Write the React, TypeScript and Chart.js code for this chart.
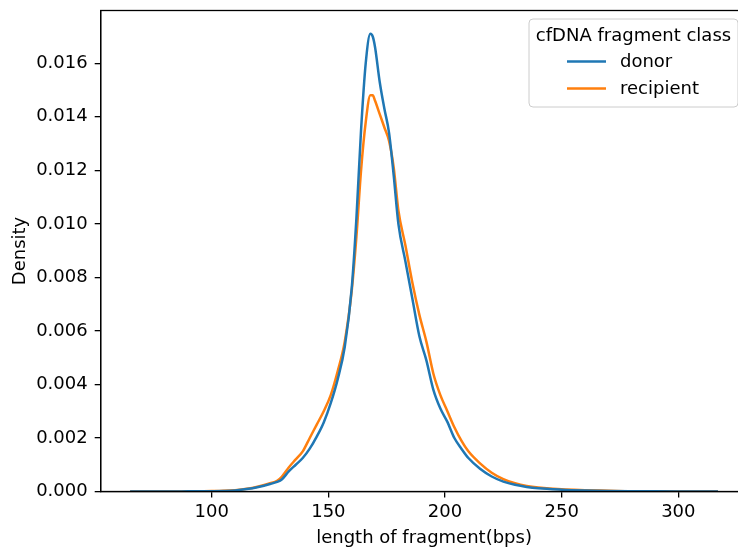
import React, { useEffect, useRef } from "react";
import { Chart, registerables } from "chart.js";

Chart.register(...registerables);

const lengths = [65, 70, 75, 80, 85, 90, 95, 100, 105, 110, 115, 120, 125, 128, 130, 133, 136, 139, 142, 145, 148, 151, 154, 157, 160, 162, 164, 166, 168, 169, 170, 172, 174, 176, 178, 180, 183, 186, 189, 192, 195, 198, 201, 204, 207, 210, 215, 220, 225, 230, 235, 240, 250, 260, 270, 280, 290, 300, 310, 317];

const donor = [0, 0, 0, 0, 0.000003, 0.000005, 0.000008, 0.000012, 0.00002, 0.00004,
  0.00009, 0.00017, 0.00028, 0.00036, 0.00045,
  0.00075, 0.001, 0.00125, 0.0016, 0.00205, 0.00258, 0.0033, 0.0042, 0.0054, 0.0076,
  0.0102, 0.0135, 0.016, 0.0171, 0.017, 0.0166, 0.0153, 0.0143, 0.0134, 0.0118, 0.01,
  0.0086, 0.0072, 0.0058, 0.0049, 0.0038, 0.0031, 0.0026, 0.002, 0.0016, 0.00125,
  0.00085, 0.00056, 0.00037, 0.00025, 0.00017, 0.00012,
  0.00007, 0.00004, 0.00002, 0.00001, 0.000005, 0.000003, 0.000001, 0];

const recipient = [0, 0, 0, 0, 0.000003, 0.000005, 0.00001, 0.000015, 0.000025, 0.00005,
  0.0001, 0.00019, 0.00031, 0.0004, 0.00055,
  0.0009, 0.0012, 0.0015, 0.002, 0.0025, 0.003, 0.0036, 0.0045, 0.0056, 0.0075,
  0.0095, 0.012, 0.0138, 0.0148, 0.0148, 0.0146, 0.0141, 0.0136, 0.0131, 0.0121, 0.0105,
  0.0092, 0.0078, 0.0066, 0.0056, 0.0044, 0.0036, 0.003, 0.0024, 0.0019, 0.0015,
  0.00105, 0.0007, 0.00046, 0.00031, 0.00021, 0.00015,
  0.00008, 0.00005, 0.00003, 0.00001, 0.000006, 0.000003, 0.000001, 0];

const seriesNames = ["donor", "recipient"];
const seriesColors = ["#1f77b4", "#ff7f0e"];
const xTicks = [100, 150, 200, 250, 300];
const yTicks = [0, 0.002, 0.004, 0.006, 0.008, 0.01, 0.012, 0.014, 0.016];
const legendTitle = "cfDNA fragment class";
const xTitle = "length of fragment(bps)";
const yTitle = "Density";

const FONT = "DejaVu Sans";
const FS = 18;

const framePlugin = {
  id: "frame",
  afterDraw(chart: any) {
    const { ctx, chartArea } = chart;
    ctx.save();
    ctx.strokeStyle = "#000";
    ctx.lineWidth = 1.3;
    ctx.strokeRect(chartArea.left, chartArea.top, chartArea.right - chartArea.left, chartArea.bottom - chartArea.top);
    ctx.restore();
  },
};

const legendPlugin = {
  id: "boxLegend",
  afterDraw(chart: any) {
    const { ctx } = chart;
    const x0 = 529, y0 = 19, x1 = 738, y1 = 107, r = 4;
    ctx.save();
    ctx.beginPath();
    ctx.moveTo(x0 + r, y0);
    ctx.lineTo(x1 - r, y0);
    ctx.arcTo(x1, y0, x1, y0 + r, r);
    ctx.lineTo(x1, y1 - r);
    ctx.arcTo(x1, y1, x1 - r, y1, r);
    ctx.lineTo(x0 + r, y1);
    ctx.arcTo(x0, y1, x0, y1 - r, r);
    ctx.lineTo(x0, y0 + r);
    ctx.arcTo(x0, y0, x0 + r, y0, r);
    ctx.closePath();
    ctx.fillStyle = "rgba(255,255,255,0.8)";
    ctx.fill();
    ctx.strokeStyle = "#cccccc";
    ctx.lineWidth = 1;
    ctx.stroke();
    ctx.font = `${FS}px "${FONT}"`;
    ctx.fillStyle = "#000";
    ctx.textBaseline = "middle";
    ctx.textAlign = "center";
    ctx.fillText(legendTitle, (x0 + x1) / 2, 36);
    ctx.textAlign = "left";
    const rows = [61.5, 88.5];
    seriesNames.forEach((name, i) => {
      ctx.strokeStyle = seriesColors[i];
      ctx.lineWidth = 2.5;
      ctx.beginPath();
      ctx.moveTo(567, rows[i]);
      ctx.lineTo(606, rows[i]);
      ctx.stroke();
      ctx.fillStyle = "#000";
      ctx.fillText(name, 620, rows[i] + 1);
    });
    ctx.restore();
  },
};

export default function App() {
  const ref = useRef<HTMLCanvasElement>(null);
  useEffect(() => {
    if (!ref.current) return;
    const W = 760, H = 550;
    const chart = new Chart(ref.current, {
      type: "line",
      data: {
        datasets: seriesNames.map((name, i) => ({
          label: name,
          data: lengths.map((x, j) => ({ x, y: (i === 0 ? donor : recipient)[j] })),
          borderColor: seriesColors[i],
          backgroundColor: seriesColors[i],
          borderWidth: 2.5,
          pointRadius: 0,
          cubicInterpolationMode: "monotone" as const,
          fill: false,
        })),
      },
      options: {
        animation: false,
        responsive: false,
        devicePixelRatio: 1,
        layout: { padding: { top: 10.5, right: W - 747.4, left: 0, bottom: 0 } },
        plugins: { legend: { display: false }, tooltip: { enabled: false } },
        scales: {
          x: {
            type: "linear",
            min: 52.4,
            max: 329.6,
            afterFit: (s: any) => { s.height = H - 491.5; s.paddingLeft = 0; s.paddingRight = 0; },
            afterBuildTicks: (s: any) => { s.ticks = xTicks.map((v) => ({ value: v })); },
            grid: { display: true, drawOnChartArea: false, drawTicks: true, tickLength: 6, color: "#000", lineWidth: 1.3 },
            border: { display: true, color: "#000", width: 1.3 },
            ticks: { color: "#000", font: { family: FONT, size: FS }, padding: 4, maxRotation: 0, callback: (v: any) => String(v) },
            title: { display: true, text: xTitle, color: "#000", font: { family: FONT, size: FS, lineHeight: 1 }, padding: { top: 0, bottom: 3 } },
          },
          y: {
            type: "linear",
            min: 0,
            max: 0.01797,
            afterFit: (s: any) => { s.width = 100.7; s.paddingTop = 0; s.paddingBottom = 0; },
            afterBuildTicks: (s: any) => { s.ticks = yTicks.map((v) => ({ value: v })); },
            grid: { display: true, drawOnChartArea: false, drawTicks: true, tickLength: 6, color: "#000", lineWidth: 1.3 },
            border: { display: true, color: "#000", width: 1.3 },
            ticks: { color: "#000", font: { family: FONT, size: FS }, padding: 7, callback: (v: any) => Number(v).toFixed(3) },
            title: { display: true, text: yTitle, color: "#000", font: { family: FONT, size: FS, lineHeight: 1 }, padding: { top: 11.5, bottom: 0 } },
          },
        },
      },
      plugins: [framePlugin, legendPlugin],
    });
    return () => chart.destroy();
  }, []);
  return (
    <div style={{ position: "fixed", left: 0, top: 0, width: 738, height: 550, overflow: "hidden", background: "#fff" }}>
      <canvas ref={ref} width={760} height={550} style={{ display: "block", width: 760, height: 550 }} />
    </div>
  );
}
